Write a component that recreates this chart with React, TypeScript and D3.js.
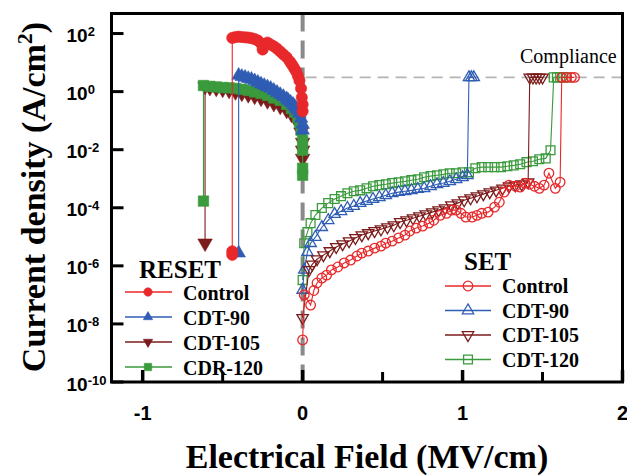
import React from 'react'
import * as d3 from 'd3'

const W = 627
const H = 476

// Electric field (MV/cm) and log10 of current density (A/cm^2)
const resetControlField = [0, 0, -0.005, -0.01, -0.02, -0.03, -0.04, -0.05, -0.06, -0.07, -0.08, -0.1, -0.12, -0.14, -0.16, -0.18, -0.2, -0.22, -0.24, -0.25, -0.26, -0.28, -0.3, -0.32, -0.34, -0.36, -0.38, -0.4, -0.42, -0.44, -0.44, -0.44]
const resetControlExp = [-0.68, -0.44, -0.2, 0.11, 0.38, 0.55, 0.69, 0.78, 0.87, 0.96, 1.04, 1.18, 1.28, 1.38, 1.48, 1.56, 1.62, 1.69, 1.59, 1.45, 1.66, 1.76, 1.81, 1.84, 1.86, 1.87, 1.88, 1.89, 1.88, 1.85, -5.5, -5.62]

const resetCdt90Field = [0, 0, -0.01, -0.02, -0.03, -0.04, -0.05, -0.06, -0.075, -0.09, -0.1, -0.12, -0.14, -0.16, -0.18, -0.2, -0.22, -0.24, -0.26, -0.28, -0.3, -0.32, -0.34, -0.36, -0.38, -0.4, -0.4]
const resetCdt90Exp = [-1.33, -1.13, -0.92, -0.75, -0.65, -0.58, -0.51, -0.44, -0.37, -0.3, -0.25, -0.17, -0.1, -0.03, 0.04, 0.11, 0.16, 0.21, 0.26, 0.32, 0.37, 0.42, 0.45, 0.49, 0.52, 0.56, -5.56]

const resetCdt105Field = [0, 0, 0, -0.01, -0.02, -0.03, -0.05, -0.07, -0.1, -0.14, -0.18, -0.22, -0.26, -0.3, -0.34, -0.38, -0.42, -0.46, -0.5, -0.54, -0.58, -0.61, -0.61]
const resetCdt105Exp = [-2.3, -2.02, -1.75, -1.4, -1.16, -1.02, -0.89, -0.78, -0.65, -0.51, -0.41, -0.32, -0.23, -0.16, -0.11, -0.06, -0.01, 0.04, 0.08, 0.11, 0.14, 0.18, -5.22]

const resetCdt120Field = [0, 0, 0, 0, -0.01, -0.02, -0.03, -0.05, -0.07, -0.1, -0.14, -0.18, -0.22, -0.26, -0.3, -0.34, -0.38, -0.42, -0.46, -0.5, -0.54, -0.58, -0.62, -0.62]
const resetCdt120Exp = [-2.88, -2.64, -2.02, -1.68, -1.33, -1.06, -0.89, -0.71, -0.58, -0.44, -0.3, -0.22, -0.13, -0.06, -0.01, 0.04, 0.08, 0.11, 0.13, 0.14, 0.16, 0.18, 0.21, -3.77]

const setControlField = [0, 0.01, 0.05, 0.07, 0.09, 0.12, 0.15, 0.18, 0.22, 0.26, 0.3, 0.34, 0.37, 0.41, 0.45, 0.49, 0.52, 0.56, 0.6, 0.64, 0.67, 0.71, 0.75, 0.79, 0.82, 0.86, 0.9, 0.93, 0.96, 0.99, 1.02, 1.06, 1.09, 1.12, 1.16, 1.2, 1.23, 1.26, 1.29, 1.33, 1.36, 1.39, 1.42, 1.45, 1.48, 1.51, 1.54, 1.58, 1.61, 1.62, 1.65, 1.68, 1.7]
const setControlExp = [-8.55, -7.0, -7.35, -6.85, -6.59, -6.42, -6.32, -6.14, -6.04, -5.9, -5.8, -5.66, -5.56, -5.49, -5.39, -5.32, -5.22, -5.15, -5.04, -4.94, -4.8, -4.7, -4.63, -4.53, -4.43, -4.26, -4.19, -4.08, -4.08, -4.19, -4.32, -4.32, -4.26, -4.19, -4.15, -3.98, -3.81, -3.46, -3.22, -3.26, -3.29, -3.15, -3.19, -3.26, -3.33, -3.22, -2.81, -3.33, -3.12, 0.49, 0.49, 0.49, 0.49]

const setCdt90Field = [0, 0.01, 0.03, 0.05, 0.08, 0.12, 0.16, 0.2, 0.24, 0.28, 0.32, 0.36, 0.4, 0.44, 0.48, 0.52, 0.56, 0.6, 0.64, 0.68, 0.72, 0.76, 0.8, 0.84, 0.88, 0.92, 0.96, 1.0, 1.03, 1.04, 1.055, 1.07]
const setCdt90Exp = [-6.83, -6.14, -5.53, -5.22, -5.01, -4.67, -4.43, -4.22, -4.12, -4.01, -3.94, -3.84, -3.77, -3.7, -3.64, -3.57, -3.5, -3.46, -3.43, -3.4, -3.36, -3.33, -3.26, -3.19, -3.15, -3.09, -3.02, -2.95, -2.88, 0.49, 0.49, 0.49]

const setCdt105Field = [0, 0.04, 0.06, 0.09, 0.13, 0.17, 0.21, 0.25, 0.29, 0.33, 0.37, 0.41, 0.45, 0.49, 0.53, 0.57, 0.61, 0.65, 0.69, 0.73, 0.77, 0.81, 0.85, 0.89, 0.93, 0.97, 1.01, 1.05, 1.09, 1.13, 1.17, 1.21, 1.25, 1.29, 1.33, 1.37, 1.41, 1.42, 1.44, 1.46, 1.48, 1.5]
const setCdt105Exp = [-7.79, -6.14, -5.95, -5.77, -5.63, -5.49, -5.35, -5.25, -5.15, -5.04, -4.94, -4.87, -4.8, -4.74, -4.67, -4.6, -4.49, -4.43, -4.36, -4.29, -4.22, -4.15, -4.08, -4.01, -3.91, -3.84, -3.74, -3.67, -3.6, -3.53, -3.46, -3.4, -3.33, -3.26, -3.22, -3.19, -3.12, 0.49, 0.49, 0.49, 0.49, 0.49]

const setCdt120Field = [0, 0.01, 0.03, 0.05, 0.08, 0.12, 0.16, 0.2, 0.24, 0.28, 0.32, 0.36, 0.4, 0.44, 0.48, 0.52, 0.56, 0.6, 0.64, 0.68, 0.72, 0.76, 0.8, 0.84, 0.88, 0.92, 0.96, 1.0, 1.04, 1.08, 1.12, 1.16, 1.2, 1.24, 1.28, 1.32, 1.36, 1.4, 1.44, 1.48, 1.52, 1.55, 1.57, 1.59, 1.61, 1.63, 1.65]
const setCdt120Exp = [-6.49, -5.22, -4.84, -4.53, -4.25, -4.01, -3.84, -3.7, -3.6, -3.5, -3.43, -3.4, -3.33, -3.26, -3.22, -3.19, -3.15, -3.12, -3.09, -3.05, -3.02, -2.95, -2.91, -2.88, -2.85, -2.81, -2.81, -2.78, -2.78, -2.64, -2.6, -2.6, -2.6, -2.6, -2.57, -2.54, -2.5, -2.43, -2.4, -2.33, -2.3, -2.02, 0.49, 0.49, 0.49, 0.49, 0.49]

const setLegendNames = ['Control', 'CDT-90', 'CDT-105', 'CDT-120']
const resetLegendNames = ['Control', 'CDT-90', 'CDT-105', 'CDR-120']
const yTickExps = [2, 0, -2, -4, -6, -8, -10]
const xMajorTicks = [-1, 0, 1, 2]
const xMinorTicks = [-0.5, 0.5, 1.5]
const complianceExp = 0.49

const COLORS = ['#e8282a', '#2f5db4', '#7c1b1b', '#3a9a3c']
const SHAPES = ['circle', 'up', 'down', 'square']

const x = d3.scaleLinear().domain([-1.195, 2]).range([111.5, 622.5])
const y = d3.scaleLog().domain([1e-10, Math.pow(10, 2.69)]).range([382, 13.5])

const symPath = (shape: string, size: number) => {
  if (shape === 'circle') return d3.symbol(d3.symbolCircle, size)()
  if (shape === 'square') return d3.symbol(d3.symbolSquare, size)()
  return d3.symbol(d3.symbolTriangle, size * 0.7)()
}

const Marker = ({ shape, cx, cy, color, filled, size }: any) => (
  <path
    d={symPath(shape, size) as string}
    transform={`translate(${cx},${cy})${shape === 'down' ? ' rotate(180)' : ''}`}
    fill={filled ? color : 'none'}
    stroke={color}
    strokeWidth={filled ? 0.6 : 1.3}
  />
)

const toPoints = (field: number[], exps: number[]) =>
  field.map((f, i) => ({ f, j: Math.pow(10, exps[i]) }))

const line = d3.line<{ f: number; j: number }>().x(d => x(d.f)).y(d => y(d.j))

const Series = ({ pts, color, shape, filled, size }: any) => (
  <g>
    <path d={line(pts) as string} fill="none" stroke={color} strokeWidth={1.1} />
    {pts.map((d: any, i: number) => (
      <Marker key={i} shape={shape} cx={x(d.f)} cy={y(d.j)} color={color} filled={filled} size={size} />
    ))}
  </g>
)

export default function App() {
  const reset = [
    toPoints(resetControlField, resetControlExp),
    toPoints(resetCdt90Field, resetCdt90Exp),
    toPoints(resetCdt105Field, resetCdt105Exp),
    toPoints(resetCdt120Field, resetCdt120Exp),
  ]
  const set = [
    toPoints(setControlField, setControlExp),
    toPoints(setCdt90Field, setCdt90Exp),
    toPoints(setCdt105Field, setCdt105Exp),
    toPoints(setCdt120Field, setCdt120Exp),
  ]
  const resetOrder = [2, 3, 1, 0]
  const setOrder = [3, 1, 2, 0]
  const resetSize = [100, 115, 130, 110]
  const setSize = [72, 80, 80, 78]
  const sans = '"Liberation Sans", Arial, sans-serif'
  const serif = '"Liberation Serif", "Times New Roman", serif'
  const yComp = y(Math.pow(10, complianceExp))

  return (
    <svg width={W} height={H} style={{ position: 'absolute', left: 0, top: 0, background: '#fff' }}>
      <rect width={W} height={H} fill="#fff" />
      {/* reference lines */}
      <line x1={x(0)} x2={x(0)} y1={13.5} y2={382} stroke="#8a8a8a" strokeWidth={4} strokeDasharray="18,9" />
      <line x1={x(0) + 3} x2={W} y1={yComp} y2={yComp} stroke="#b4b4b4" strokeWidth={1.8} strokeDasharray="11,7" />
      <text x={520} y={63} fontFamily={serif} fontSize={20}>Compliance</text>

      {resetOrder.map(i => (
        <Series key={'r' + i} pts={reset[i]} color={COLORS[i]} shape={SHAPES[i]} filled size={resetSize[i]} />
      ))}
      {setOrder.map(i => (
        <Series key={'s' + i} pts={set[i]} color={COLORS[i]} shape={SHAPES[i]} filled={false} size={setSize[i]} />
      ))}

      {/* frame and ticks */}
      <rect x={111.5} y={13.5} width={511} height={368.5} fill="none" stroke="#000" strokeWidth={3} />
      {yTickExps.map(e => (
        <g key={e}>
          <line x1={111.5} x2={123.5} y1={y(Math.pow(10, e))} y2={y(Math.pow(10, e))} stroke="#000" strokeWidth={3} />
          <text x={66.5} y={y(Math.pow(10, e)) + 8.5} fontFamily={sans} fontWeight="bold" fontSize={19}>
            10<tspan dy={-6} fontSize={13}>{e}</tspan>
          </text>
        </g>
      ))}
      {xMajorTicks.map(t => (
        <g key={t}>
          <line x1={x(t)} x2={x(t)} y1={382} y2={370} stroke="#000" strokeWidth={3.5} />
          <text x={x(t)} y={420} textAnchor="middle" fontFamily={sans} fontWeight="bold" fontSize={20}>{t}</text>
        </g>
      ))}
      {xMinorTicks.map(t => (
        <line key={t} x1={x(t)} x2={x(t)} y1={382} y2={372} stroke="#000" strokeWidth={3} />
      ))}

      {/* axis titles */}
      <text x={367} y={468} textAnchor="middle" fontFamily={serif} fontWeight="bold" fontSize={34}>
        Electrical Field (MV/cm)
      </text>
      <text transform="translate(45,197) rotate(-90)" textAnchor="middle" fontFamily={serif} fontWeight="bold" fontSize={34}>
        Current density (A/cm<tspan dy={-13} fontSize={22}>2</tspan><tspan dy={13}>)</tspan>
      </text>

      {/* RESET legend */}
      <text x={139} y={278} fontFamily={serif} fontWeight="bold" fontSize={25}>RESET</text>
      {resetLegendNames.map((n, i) => {
        const ly = 292 + i * 25
        return (
          <g key={n}>
            <line x1={125} x2={172} y1={ly} y2={ly} stroke={COLORS[i]} strokeWidth={1.3} />
            <Marker shape={SHAPES[i]} cx={148} cy={ly} color={COLORS[i]} filled size={55} />
            <text x={183} y={ly + 8} fontFamily={serif} fontWeight="bold" fontSize={20}>{n}</text>
          </g>
        )
      })}

      {/* SET legend */}
      <text x={464} y={270} fontFamily={serif} fontWeight="bold" fontSize={25}>SET</text>
      {setLegendNames.map((n, i) => {
        const ly = 286 + i * 24.5
        return (
          <g key={n}>
            <line x1={445} x2={491} y1={ly} y2={ly} stroke={COLORS[i]} strokeWidth={1.3} />
            <Marker shape={SHAPES[i]} cx={468} cy={ly} color={COLORS[i]} filled={false} size={setSize[i]} />
            <text x={502} y={ly + 7} fontFamily={serif} fontWeight="bold" fontSize={20}>{n}</text>
          </g>
        )
      })}
    </svg>
  )
}
